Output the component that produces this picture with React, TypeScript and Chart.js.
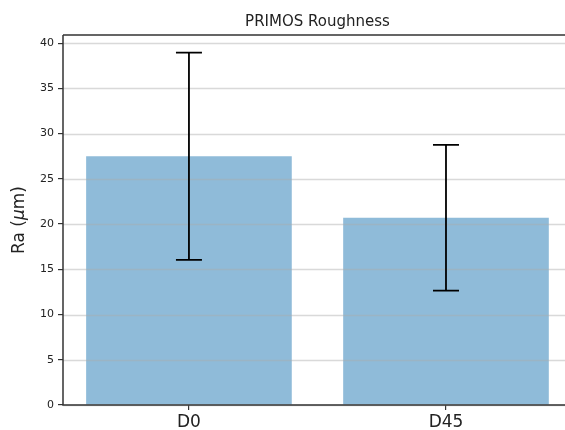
import React, { useEffect, useRef } from "react";
import { Chart, registerables } from "chart.js";

Chart.register(...registerables);

const categories = ["D0", "D45"];
const means = [27.5, 20.7];
const errors = [11.45, 8.05];
const yTicks = [0, 5, 10, 15, 20, 25, 30, 35, 40];
const yMax = 40.9;
const xMin = -0.49;
const xMaxVisible = 1.463;
const xMidAxes = 0.5;
const titleText = "PRIMOS Roughness";

const FONT = "'DejaVu Sans', sans-serif";
const SPINE = "#333";

export default function App() {
  const ref = useRef<HTMLCanvasElement | null>(null);

  useEffect(() => {
    const canvas = ref.current;
    if (!canvas) return;

    const overlay = {
      id: "overlay",
      afterDatasetsDraw(chart: any) {
        const { ctx, chartArea } = chart;
        const xs = chart.scales.x;
        const ys = chart.scales.y;
        ctx.save();
        // grid lines above bars (matplotlib axisbelow='line')
        ctx.strokeStyle = "rgba(170,170,170,0.45)";
        ctx.lineWidth = 1.5;
        for (const t of yTicks) {
          const py = Math.round(ys.getPixelForValue(t)) + 0.5;
          ctx.beginPath();
          ctx.moveTo(chartArea.left, py);
          ctx.lineTo(chartArea.right, py);
          ctx.stroke();
        }
        // error bars
        ctx.strokeStyle = "#000";
        ctx.lineWidth = 1.8;
        const cap = 13;
        means.forEach((m, i) => {
          const px = xs.getPixelForValue(i);
          const top = ys.getPixelForValue(m + errors[i]);
          const bot = ys.getPixelForValue(m - errors[i]);
          ctx.beginPath();
          ctx.moveTo(px, top);
          ctx.lineTo(px, bot);
          ctx.moveTo(px - cap, top);
          ctx.lineTo(px + cap, top);
          ctx.moveTo(px - cap, bot);
          ctx.lineTo(px + cap, bot);
          ctx.stroke();
        });
        // spines
        ctx.strokeStyle = SPINE;
        ctx.lineWidth = 1.5;
        ctx.beginPath();
        ctx.moveTo(chartArea.left, chartArea.top);
        ctx.lineTo(chartArea.right, chartArea.top);
        ctx.moveTo(chartArea.left, chartArea.top);
        ctx.lineTo(chartArea.left, chartArea.bottom);
        ctx.lineTo(chartArea.right, chartArea.bottom);
        ctx.stroke();
        ctx.restore();
      },
      afterDraw(chart: any) {
        const { ctx, chartArea } = chart;
        const xs = chart.scales.x;
        ctx.save();
        ctx.fillStyle = "#222";
        ctx.textAlign = "center";
        ctx.textBaseline = "middle";
        ctx.font = `15px ${FONT}`;
        ctx.fillText(titleText, xs.getPixelForValue(xMidAxes), 22);

        // y label with italic mu
        const parts = [
          { t: "Ra (", f: `17px ${FONT}` },
          { t: "\u03bc", f: `italic 17px ${FONT}` },
          { t: "m)", f: `17px ${FONT}` },
        ];
        let total = 0;
        for (const p of parts) {
          ctx.font = p.f;
          total += ctx.measureText(p.t).width;
        }
        ctx.translate(20, (chartArea.top + chartArea.bottom) / 2);
        ctx.rotate(-Math.PI / 2);
        ctx.textAlign = "left";
        let x = -total / 2;
        for (const p of parts) {
          ctx.font = p.f;
          ctx.fillText(p.t, x, 0);
          x += ctx.measureText(p.t).width;
        }
        ctx.restore();
      },
    };

    const chart = new Chart(canvas, {
      type: "bar",
      data: {
        datasets: [
          {
            data: means.map((m, i) => ({ x: i, y: m })),
            backgroundColor: "rgba(31,119,180,0.5)",
            borderWidth: 0,
            barPercentage: 0.8,
            categoryPercentage: 1,
          },
        ],
      },
      options: {
        responsive: false,
        animation: false,
        events: [],
        layout: { padding: { top: 35, left: 0, right: 0, bottom: 0 } },
        plugins: {
          legend: { display: false },
          title: { display: false },
          tooltip: { enabled: false },
        },
        scales: {
          x: {
            type: "linear",
            offset: false,
            min: xMin,
            max: xMaxVisible,
            afterBuildTicks: (s: any) => {
              s.ticks = categories.map((_, i) => ({ value: i }));
            },
            afterFit: (s: any) => {
              s.height = 25;
            },
            ticks: {
              callback: (v: any) => categories[Math.round(Number(v))] ?? "",
              font: { family: FONT, size: 17 },
              color: "#222",
              padding: 2,
              maxRotation: 0,
              autoSkip: false,
            },
            grid: {
              display: true,
              offset: false,
              drawOnChartArea: false,
              drawTicks: true,
              tickLength: 5,
              color: SPINE,
              lineWidth: 1.2,
            },
            border: { display: false },
          },
          y: {
            type: "linear",
            min: 0,
            max: yMax,
            afterBuildTicks: (s: any) => {
              s.ticks = yTicks.map((v) => ({ value: v }));
            },
            afterFit: (s: any) => {
              s.width = 63;
            },
            ticks: {
              font: { family: FONT, size: 11 },
              color: "#222",
              padding: 4,
            },
            grid: {
              display: true,
              drawOnChartArea: false,
              drawTicks: true,
              tickLength: 5,
              color: SPINE,
              lineWidth: 1.2,
            },
            border: { display: false },
          },
        },
      },
      plugins: [overlay],
    });

    return () => chart.destroy();
  }, []);

  return (
    <div
      style={{
        position: "fixed",
        left: 0,
        top: 0,
        width: 565,
        height: 430,
        background: "#fff",
      }}
    >
      <canvas ref={ref} width={565} height={430} style={{ display: "block" }} />
    </div>
  );
}
